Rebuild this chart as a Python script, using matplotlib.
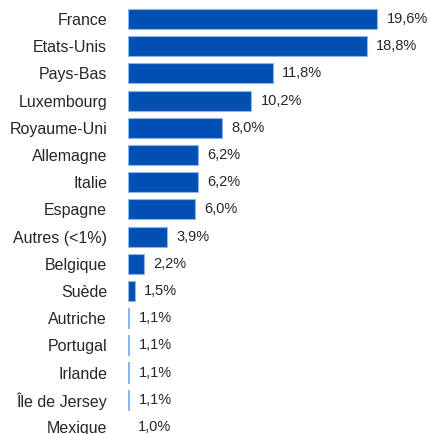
import matplotlib.pyplot as plt

# Répartition par pays
pays = ["France", "Etats-Unis", "Pays-Bas", "Luxembourg", "Royaume-Uni",
        "Allemagne", "Italie", "Espagne", "Autres (<1%)", "Belgique",
        "Suède", "Autriche", "Portugal", "Irlande", "Île de Jersey", "Mexique"]
parts = [19.6, 18.8, 11.8, 10.2, 8.0, 6.2, 6.2, 6.0, 3.9, 2.2,
         1.5, 1.1, 1.1, 1.1, 1.1, 1.0]
etiquettes = ["19,6%", "18,8%", "11,8%", "10,2%", "8,0%", "6,2%", "6,2%", "6,0%",
              "3,9%", "2,2%", "1,5%", "1,1%", "1,1%", "1,1%", "1,1%", "1,0%"]

plt.rcParams['font.family'] = ['Liberation Sans', 'DejaVu Sans']

fig = plt.figure(figsize=(4.29, 4.34), dpi=100)
ax = fig.add_axes([128 / 429, 0, 301 / 429, 1])

base = 1.0
y = list(range(len(pays)))
largeurs = [p - base for p in parts]
bords = [0.8 if w > 0 else 0 for w in largeurs]
ax.barh(y, largeurs, left=base, height=0.74, color="#0050b4",
        edgecolor="#8fb4e6", linewidth=bords)

for yi, p, txt in zip(y, parts, etiquettes):
    ax.text(p + 0.7, yi, txt, va="center", ha="left", fontsize=10.5, color="#262626")

ax.set_xlim(base, base + 301 / 13.4)
ax.set_ylim(15.26, -0.70)
ax.set_yticks(y)
ax.set_yticklabels(pays, fontsize=11.5, color="#262626")
ax.tick_params(axis="y", length=0, pad=15)
ax.set_xticks([])
for s in ax.spines.values():
    s.set_visible(False)

fig.savefig("out.png", dpi=100)
